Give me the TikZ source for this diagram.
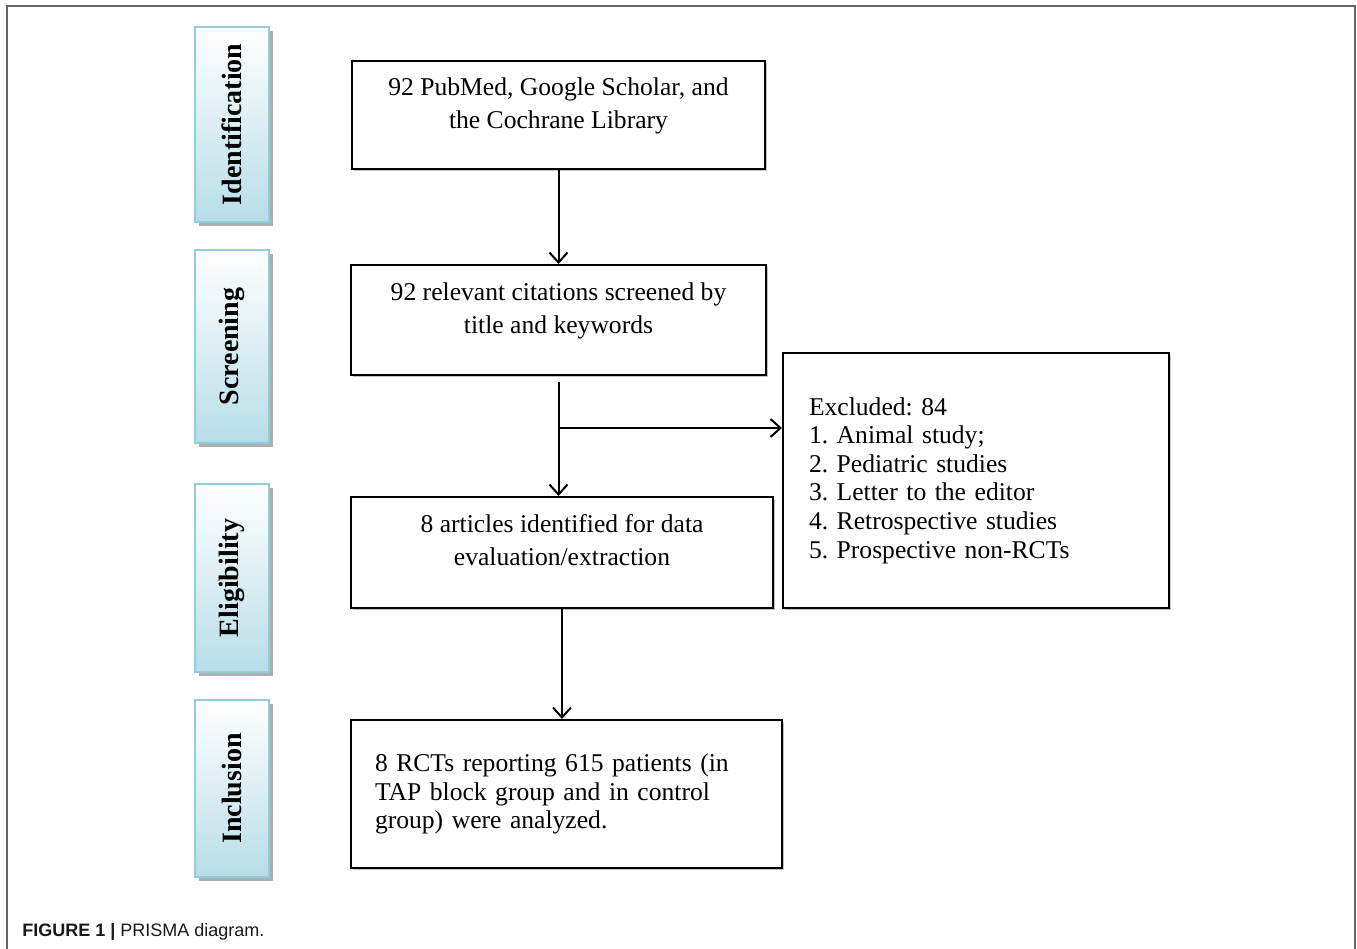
\documentclass[tikz,border=0pt]{standalone}
\usepackage{fontspec}
\setmainfont{Liberation Serif}
\newfontfamily\capfont{Liberation Sans}
\usetikzlibrary{arrows.meta,shadows}
\definecolor{stageline}{RGB}{146,205,220}
\definecolor{stagefill}{RGB}{183,221,232}
\tikzset{
  stage/.style  = {draw=stageline, line width=1pt, top color=white, bottom color=stagefill,
                   minimum width=37pt, inner sep=0pt,
                   font=\fontsize{14}{16}\selectfont\bfseries,
                   drop shadow={shadow xshift=2pt, shadow yshift=-2pt, fill=black!45, opacity=0.7}},
  blk/.style    = {draw, line width=1pt, fill=white, align=center, inner sep=0pt,
                   font=\fontsize{12.8}{16.5}\selectfont,
                   drop shadow={shadow xshift=0.8pt, shadow yshift=-1.2pt, fill=black!40, opacity=0.6}},
  topblk/.style = {blk, text height=26pt, text depth=13pt},
  listblk/.style = {blk, align=left, font=\fontsize{12.8}{14.3}\selectfont},
  ar/.style     = {-{Straight Barb[length=5pt,width=9pt]}, line width=1pt}
}

\begin{document}
\frenchspacing
\begin{tikzpicture}[x=0.5pt, y=-0.5pt]
\useasboundingbox (0,0) rectangle (1357,949);
% ---- outer frame ----
\draw[black!60, line width=1pt] (7,949) -- (7,6) -- (1355,6) -- (1355,949);

% ---- stage labels ----
\node[stage, minimum height=97.5pt] (idn) at (232,124.5) {\rotatebox{90}{Identification}};
\node[stage, minimum height=96.5pt] (scr) at (232,346.5) {\rotatebox{90}{Screening}};
\node[stage, minimum height=94pt]   (elg) at (232,578)   {\rotatebox{90}{Eligibility}};
\node[stage, minimum height=88.5pt] (inc) at (232,788.5) {\rotatebox{90}{Inclusion}};

% ---- flow boxes ----
\node[topblk, minimum width=206.5pt, minimum height=54pt] (found) at (558.5,115)
  {92 PubMed, Google Scholar, and\\ the Cochrane Library};
\node[topblk, minimum width=207.5pt, minimum height=55pt] (screened) at (558.5,320)
  {92 relevant citations screened by\\ title and keywords};
\node[topblk, minimum width=211pt, minimum height=55.5pt] (eval) at (562,552.5)
  {8 articles identified for data\\ evaluation/extraction};
\node[listblk, text width=167pt, inner xsep=13pt, minimum height=127.5pt] (excl) at (976,480.5)
  {Excluded: 84\\ 1. Animal study;\\ 2. Pediatric studies\\ 3. Letter to the editor\\
   4. Retrospective studies\\ 5. Prospective non-RCTs};
\node[listblk, text width=191.5pt, inner xsep=12pt, minimum height=74pt] (incl) at (566.5,794)
  {8 RCTs reporting 615 patients (in\\ TAP block group and in control\\ group) were analyzed.};

% ---- arrows ----
\coordinate (split) at (559,428);
\draw[ar] (found) -- (screened);
\draw[ar] ([yshift=-3pt]screened.south) -- (screened.south |- eval.north);
\draw[ar] (split) -- (split -| excl.west);
\draw[ar] (eval) -- (eval |- incl.north);

% ---- caption ----
\node[anchor=west, inner sep=0pt, font=\capfont\fontsize{9}{11}\selectfont, text=black!90] (cap) at (22,932)
  {\textbf{FIGURE 1 |} PRISMA diagram.};
\end{tikzpicture}
\end{document}
